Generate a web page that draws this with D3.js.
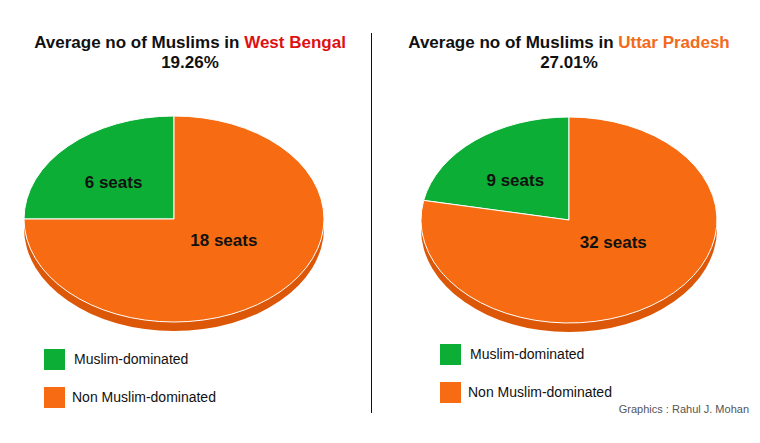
<!DOCTYPE html>
<html lang="en">
<head>
    <meta charset="UTF-8">
    <title>Muslim-dominated seats</title>
    <script src="https://d3js.org/d3.v7.min.js" charset="utf-8"></script>
    <style>
        body {
            margin: 0;
            background: #fff;
            font-family: 'Liberation Sans', Arial, sans-serif;
        }
    </style>
</head>
<body>
    <div id="chart"></div>
    <script>
        // data
        const states = ["West Bengal", "Uttar Pradesh"];
        const stateColors = ["#dd1111", "#f26a1b"];
        const averages = ["19.26%", "27.01%"];
        const categories = ["Muslim-dominated", "Non Muslim-dominated"];
        const seatsWB = [6, 18];
        const seatsUP = [9, 32];

        const width = 760, height = 443;
        const colors = ["#0cae36", "#f76c12"];
        const rimColor = "#dc5707";

        let svg = d3.select("#chart").append("svg")
            .attr("width", width)
            .attr("height", height);

        svg.append("rect").attr("width", width).attr("height", height).attr("fill", "#fff");

        // divider
        svg.append("line")
            .attr("x1", 371.5).attr("x2", 371.5)
            .attr("y1", 33).attr("y2", 413)
            .attr("stroke", "#111").attr("stroke-width", 1);

        const panels = [
            {seats: seatsWB, cx: 174, cy: 219, rx: 150, ry: 103, titleX: 190, legX: 44, legY: 349},
            {seats: seatsUP, cx: 569, cy: 220, rx: 148, ry: 103, titleX: 569, legX: 440, legY: 344}
        ];

        // label placement inside slices (small slice further out)
        function labelPos(d, total, p) {
            const big = d.value > total / 2;
            const r = big ? 0.47 : 0.57;
            const k = big ? 0.6 : 0.88;
            const a = (d.startAngle + d.endAngle) / 2;
            return [p.cx + Math.sin(a) * r * p.rx, p.cy - Math.cos(a) * r * p.ry * k];
        }

        panels.forEach(function(p, i) {
            let g = svg.append("g");

            // title
            let t = g.append("text")
                .attr("x", p.titleX).attr("y", 48)
                .attr("text-anchor", "middle")
                .attr("font-size", 17).attr("font-weight", "bold")
                .attr("fill", "#111");
            t.append("tspan").text("Average no of Muslims in ");
            t.append("tspan").attr("fill", stateColors[i]).text(states[i]);

            g.append("text")
                .attr("x", p.titleX).attr("y", 68)
                .attr("text-anchor", "middle")
                .attr("font-size", 17).attr("font-weight", "bold")
                .attr("fill", "#111")
                .text(averages[i]);

            const total = d3.sum(p.seats);
            const start = -2 * Math.PI * p.seats[0] / total;
            const pie = d3.pie().sort(null)
                .startAngle(start).endAngle(start + 2 * Math.PI);
            const arcs = pie(p.seats);
            const arc = d3.arc().innerRadius(0).outerRadius(1);

            // 3d rim
            g.append("ellipse")
                .attr("cx", p.cx).attr("cy", p.cy + 9)
                .attr("rx", p.rx).attr("ry", p.ry)
                .attr("fill", rimColor);

            let pg = g.append("g")
                .attr("transform", "translate(" + p.cx + "," + p.cy + ") scale(" + p.rx + "," + p.ry + ")");
            pg.selectAll("path")
                .data(arcs)
                .enter().append("path")
                .attr("d", arc)
                .attr("fill", (d, j) => colors[j])
                .attr("stroke", "#fff")
                .attr("stroke-width", 1)
                .attr("vector-effect", "non-scaling-stroke");

            // slice labels
            g.selectAll("text.lbl")
                .data(arcs)
                .enter().append("text")
                .attr("class", "lbl")
                .attr("text-anchor", "middle")
                .attr("font-size", 17).attr("font-weight", "bold")
                .attr("fill", "#111")
                .attr("x", d => labelPos(d, total, p)[0])
                .attr("y", d => labelPos(d, total, p)[1] + 6)
                .text(d => d.value + " seats");

            // legend
            categories.forEach(function(c, j) {
                g.append("rect")
                    .attr("x", p.legX).attr("y", p.legY + j * 38)
                    .attr("width", 21).attr("height", 21)
                    .attr("fill", colors[j]);
                g.append("text")
                    .attr("x", p.legX + (j === 0 ? 30 : 28))
                    .attr("y", p.legY + j * 38 + 15)
                    .attr("font-size", 14)
                    .attr("fill", "#111")
                    .text(c);
            });
        });

        svg.append("text")
            .attr("x", 749).attr("y", 413)
            .attr("text-anchor", "end")
            .attr("font-size", 11)
            .attr("fill", "#555")
            .text("Graphics : Rahul J. Mohan");
    </script>
</body>
</html>
